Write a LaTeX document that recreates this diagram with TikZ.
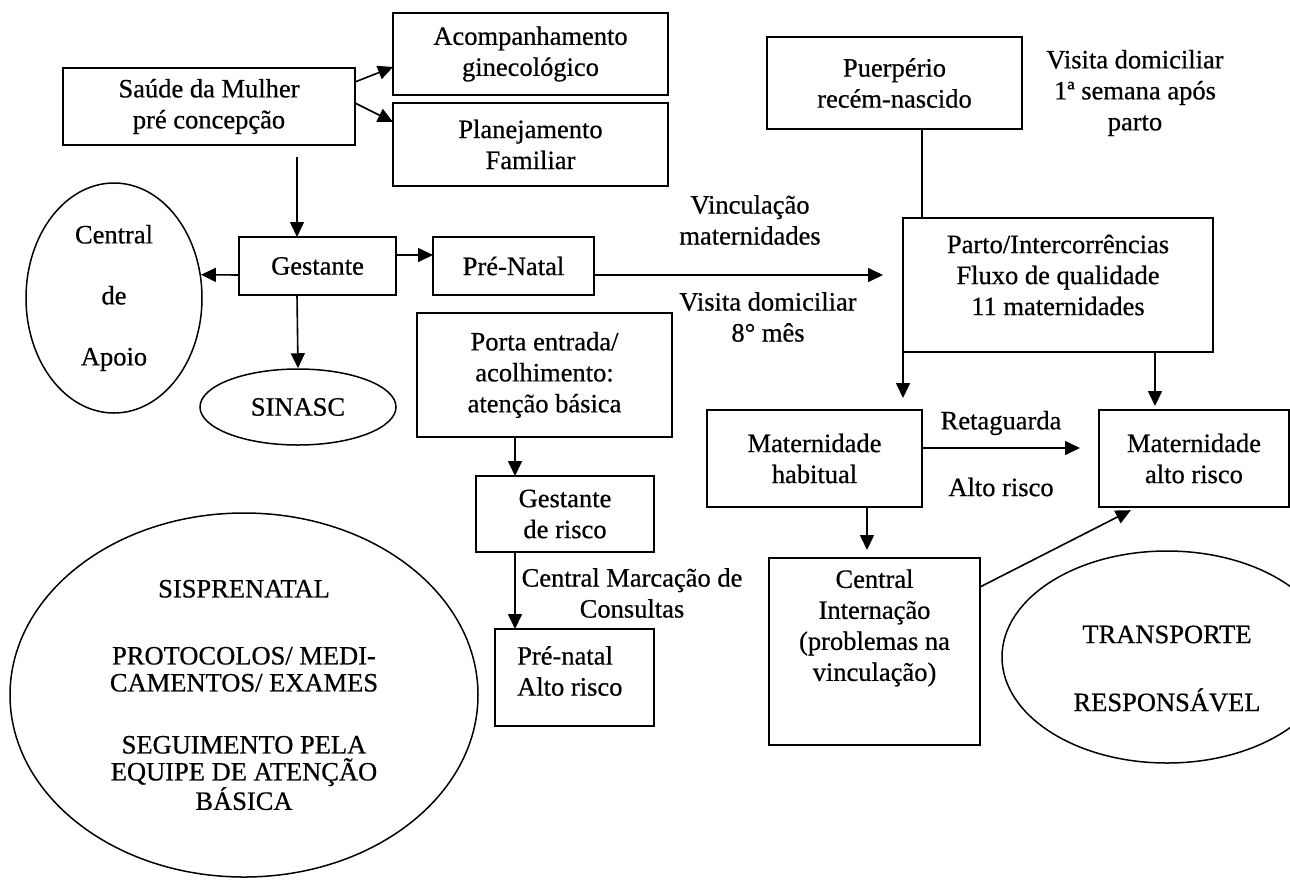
\documentclass[tikz,border=0pt]{standalone}
\usepackage{fontspec}
\setmainfont{Liberation Serif}[FakeBold=0.6]
\usetikzlibrary{arrows.meta,shapes.geometric,calc}
\newcommand\dfont{\fontsize{26.5}{31}\selectfont}
\newcommand\capfont{\fontsize{26.5}{27}\selectfont}
\begin{document}
\begin{tikzpicture}[x=1pt,y=-1pt,
  box/.style={draw, line width=1.6pt, rectangle, inner sep=0pt, outer sep=0pt, align=center, font=\dfont},
  oval/.style={draw, ellipse, line width=1.5pt, inner sep=0pt, align=center, font=\dfont},
  lbl/.style={align=center, inner sep=0pt, font=\dfont},
  arr/.style={-{Triangle[length=15pt,width=14pt]}, line width=1.6pt},
  conn/.style={line width=1.6pt}]
\useasboundingbox (0,0) rectangle (1290,879);
\fill[white] (0,0) rectangle (1290,879);
\clip (0,0) rectangle (1290,879);

% boxes
\node[box, minimum width=292pt, minimum height=77pt] (saude) at (209,106.5) {Saúde da Mulher\\pré concepção};
\node[box, minimum width=275pt, minimum height=82pt] (acomp) at (530.5,54) {Acompanhamento\\ginecológico};
\node[box, minimum width=275pt, minimum height=83pt] (planej) at (530.5,144.5) {Planejamento\\Familiar};
\node[box, minimum width=157pt, minimum height=58pt] (gestante) at (317.5,266) {Gestante};
\node[box, minimum width=161pt, minimum height=58pt] (prenatal) at (513.5,266) {Pré-Natal};
\node[box, minimum width=255pt, minimum height=92pt] (puerp) at (894.5,83) {Puerpério\\recém-nascido};
\node[box, minimum width=310pt, minimum height=134pt] (parto) at (1058,285) {};
\node[lbl] (partoT) at (1058,275) {Parto/Intercorrências\\Fluxo de qualidade\\11 maternidades};
\node[box, minimum width=255pt, minimum height=124pt] (porta) at (544.5,375) {Porta entrada/\\acolhimento:\\atenção básica};
\node[box, minimum width=178pt, minimum height=76pt] (gestrisco) at (565,514) {Gestante\\de risco};
\node[box, minimum width=159pt, minimum height=97pt] (prenatalAR) at (574.5,677.5) {};
\node[lbl, align=left, anchor=west] (prenatalART) at (517,671) {Pré-natal\\Alto risco};
\node[box, minimum width=215pt, minimum height=97pt] (mathab) at (814.5,458.5) {Maternidade\\habitual};
\node[box, minimum width=190pt, minimum height=97pt] (matalto) at (1194,458.5) {Maternidade\\alto risco};
\node[box, minimum width=211pt, minimum height=187pt] (internacao) at (874.5,651.5) {};
\node[lbl] (internacaoT) at (874.5,628) {Central\\Internação\\(problemas na\\vinculação)};

% ellipses
\node[oval, minimum width=176pt, minimum height=230pt] (apoio) at (114,298) {Central\\[30pt]de\\[30pt]Apoio};
\node[oval, minimum width=196pt, minimum height=76pt] (sinasc) at (298,407) {SINASC};
\node[oval, minimum width=468pt, minimum height=364pt, font=\capfont] (sispre) at (244,695)
  {SISPRENATAL\\[40pt]PROTOCOLOS/ MEDI-\\CAMENTOS/ EXAMES\\[35pt]SEGUIMENTO PELA\\EQUIPE DE ATENÇÃO\\BÁSICA};
\node[oval, minimum width=330pt, minimum height=212pt] (transp) at (1167,657) {};
\node[lbl] (transpT) at (1167,668.5) {TRANSPORTE\\[37pt]RESPONSÁVEL};

% free labels
\node[lbl] (vinc) at (750,220) {Vinculação\\maternidades};
\node[lbl] (visita8) at (768,317) {Visita domiciliar\\8° mês};
\node[lbl] (visita1) at (1135,93) {Visita domiciliar\\1ª semana após\\parto};
\node[lbl] (marc) at (632,593) {Central Marcação de\\Consultas};
\node[lbl] (retag) at (1001,423) {Retaguarda};
\node[lbl] (altor) at (1001,487) {Alto risco};

% connectors
\draw[arr] ([yshift=24.5pt]saude.east) -- ([yshift=-13pt]acomp.west);
\draw[arr] ([yshift=3.5pt]saude.east) -- ([yshift=22.5pt]planej.west);
\draw[arr] ([xshift=88pt,yshift=-12pt]saude.south) -- ([xshift=-20.5pt]gestante.north);
\draw[arr] ([yshift=-9pt]gestante.west) -- (apoio.15);
\draw[arr] ([yshift=11pt]gestante.east) -- ([yshift=11pt]prenatal.west);
\draw[arr, shorten >=20pt] ([yshift=-9pt]prenatal.east) -- ([yshift=10pt]parto.west);
\draw[arr] ([xshift=-20.5pt]gestante.south) -- (sinasc.north);
\draw[arr] ([xshift=-29.5pt]porta.south) -- ([xshift=-50pt]gestrisco.north);
\draw[arr] ([xshift=-50pt]gestrisco.south) -- ([xshift=-59.5pt]prenatalAR.north);
\draw[conn] ([xshift=27.5pt]puerp.south) -- ([xshift=-136pt]parto.north);
\draw[arr, shorten >=12pt] (parto.south west) -- ([xshift=88.5pt]mathab.north);
\draw[arr, shorten >=4pt] ([xshift=97pt]parto.south) -- ([xshift=-39pt]matalto.north);
\draw[arr, shorten >=19pt] ([yshift=10.5pt]mathab.east) -- ([yshift=10.5pt]matalto.west);
\draw[arr, shorten >=8pt] ([xshift=52.5pt]mathab.south) -- ([xshift=-7.5pt]internacao.north);
\draw[arr, shorten >=7pt] ([yshift=64.5pt]internacao.east) -- ([xshift=-57pt]matalto.south);
\end{tikzpicture}
\end{document}
